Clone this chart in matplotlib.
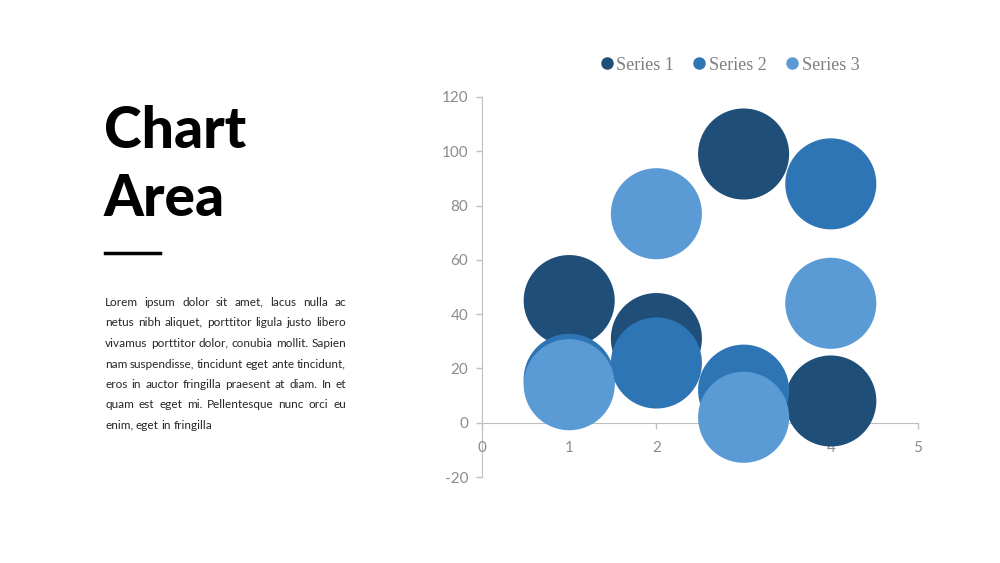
import math
import matplotlib
matplotlib.use("Agg")
import matplotlib.pyplot as plt
from matplotlib.lines import Line2D

# ---- data ----
x_values = [1, 2, 3, 4]
series_names = ["Series 1", "Series 2", "Series 3"]
series1_y = [45, 31, 99, 8]
series2_y = [16, 22, 12, 88]
series3_y = [14, 77, 2, 44]
bubble_sizes = [10, 10, 10, 10]
colors = ["#1F4E79", "#2E75B6", "#5B9BD5"]
x_ticks = [0, 1, 2, 3, 4, 5]
y_ticks = [-20, 0, 20, 40, 60, 80, 100, 120]

title_lines = ["Chart", "Area"]
paragraph_lines = [
    "Lorem ipsum dolor sit amet, lacus nulla ac",
    "netus nibh aliquet, porttitor ligula justo libero",
    "vivamus porttitor dolor, conubia mollit. Sapien",
    "nam suspendisse, tincidunt eget ante tincidunt,",
    "eros in auctor fringilla praesent at diam. In et",
    "quam est eget mi. Pellentesque nunc orci eu",
    "enim, eget in fringilla",
]

W, H = 1000, 563
fig = plt.figure(figsize=(W / 100, H / 100), dpi=100)
fig.patch.set_facecolor("white")

ax = fig.add_axes([0.482, 1 - 477 / H, 0.436, (477 - 97) / H])
ax.set_xlim(0, 5)
ax.set_ylim(-20, 120)

scale = 4300 / 10
for ys, c, name in zip([series1_y, series2_y, series3_y], colors, series_names):
    ax.scatter(x_values, ys, s=[b * scale for b in bubble_sizes], color=c,
               edgecolors="none", label=name, zorder=3, clip_on=False)

axis_col = "#BFBFBF"
lab_col = "#8C8C8C"
for sp in ["top", "right"]:
    ax.spines[sp].set_visible(False)
ax.spines["bottom"].set_position(("data", 0))
ax.spines["bottom"].set_color(axis_col)
ax.spines["left"].set_color(axis_col)
ax.spines["bottom"].set_zorder(1)
ax.spines["left"].set_zorder(1)
ax.set_xticks(x_ticks)
ax.set_yticks(y_ticks)
ax.set_yticklabels([str(v) for v in y_ticks])
ax.tick_params(axis="both", colors=axis_col, labelcolor=lab_col, length=4,
               width=1, labelsize=11)
ax.tick_params(axis="x", pad=9)
ax.tick_params(axis="y", pad=6)
for lab in ax.get_xticklabels() + ax.get_yticklabels():
    lab.set_fontfamily("Lato")
ax.set_facecolor("none")

# legend
handles = [Line2D([0], [0], marker="o", linestyle="none", markersize=9,
                  markerfacecolor=c, markeredgecolor="none") for c in colors]
leg = fig.legend(handles, series_names, loc="center", bbox_to_anchor=(0.7285, 1 - 65 / H),
                 ncol=3, frameon=False, handletextpad=0.05, columnspacing=0.88,
                 handlelength=1.0, prop={"family": "Liberation Serif", "size": 13})
for t in leg.get_texts():
    t.set_color("#7F7F7F")

# title
for txt, base in zip(title_lines, [148, 216]):
    fig.text(104 / W, 1 - base / H, txt, fontfamily="Lato", fontweight="black",
             fontsize=41, color="black", va="baseline", ha="left")

# short rule
fig.add_artist(Line2D([105 / W, 160 / W], [1 - 253 / H, 1 - 253 / H], color="black",
                      linewidth=2.5, transform=fig.transFigure))

# justified paragraph: one text per word, baselines pixel-aligned
renderer = fig.canvas.get_renderer()
try:
    from matplotlib.backends.backend_agg import get_hinting_flag
    _flags = get_hinting_flag()
except Exception:
    _flags = None


def baseline_shift(text_obj):
    """Return the top-down y (in px) offset to give so the rendered baseline lands on an integer row."""
    try:
        font = renderer._prepare_font(text_obj.get_fontproperties())
        font.set_text(text_obj.get_text(), 0, flags=_flags)
        d64 = font.get_descent()
        w64, h64 = font.get_width_height()
        ymax = h64 - d64
        k = int(h64 // 64) - math.floor(ymax / 64)
        return k - d64 / 64.0
    except Exception:
        return 0.0


left_px, right_px = 105, 346
base0 = 306
step = 20.5
fs = 8.45
for i, line in enumerate(paragraph_lines):
    B = round(base0 + i * step)
    words = line.split(" ")
    texts, widths = [], []
    for w in words:
        t = fig.text(0, 1 - B / H, w, fontfamily="Lato", fontsize=fs, color="#262626",
                     va="baseline", ha="left")
        texts.append(t)
        widths.append(t.get_window_extent(renderer=renderer).width)
    if i == len(paragraph_lines) - 1:
        gap = 2.6
    else:
        gap = max(2.0, (right_px - left_px - sum(widths)) / (len(words) - 1))
    xpos = left_px
    for t, wdt in zip(texts, widths):
        t.set_x(xpos / W)
        Y = B + baseline_shift(t) + 1e-4
        t.set_y(1 - Y / H)
        xpos += wdt + gap

fig.savefig("out.png", dpi=100, facecolor="white")
